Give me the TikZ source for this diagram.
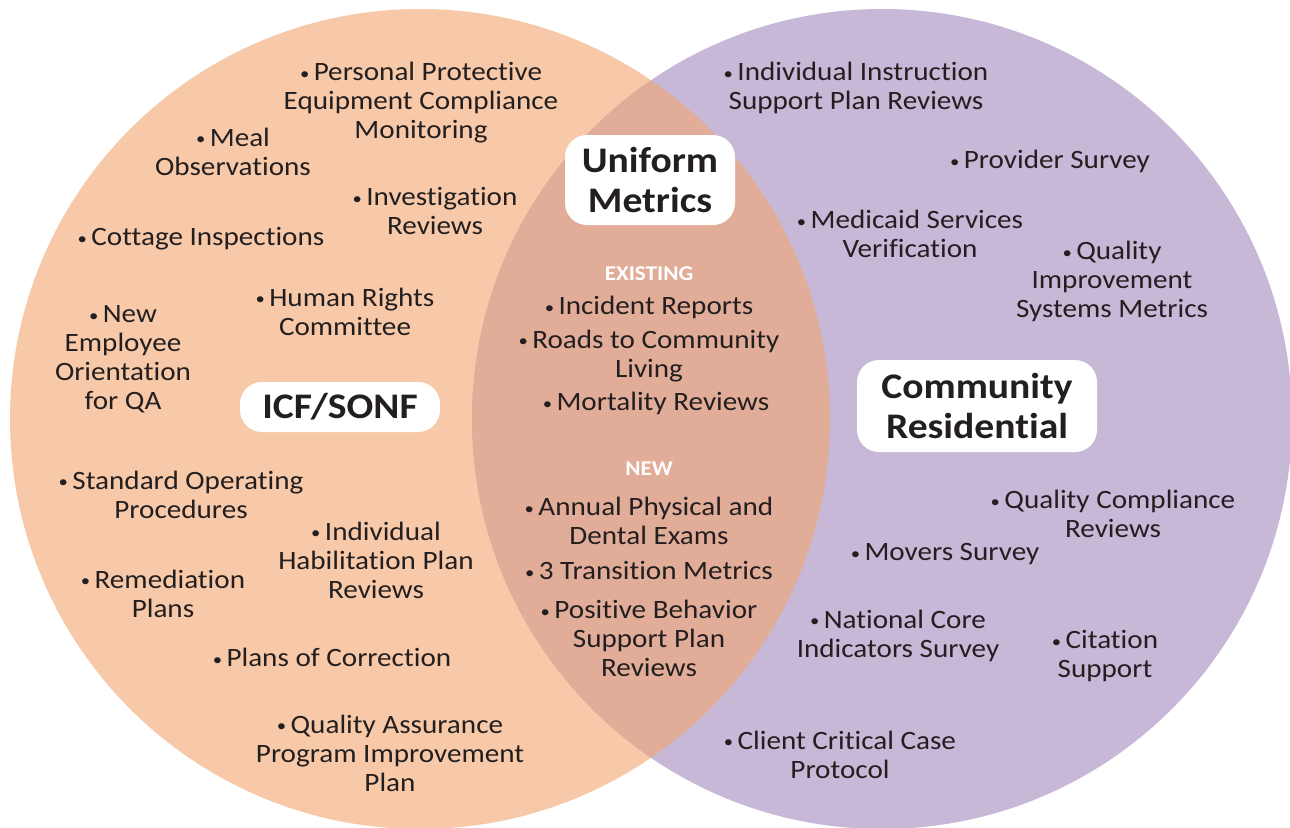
\documentclass[tikz,border=0pt]{standalone}
\usepackage{fontspec}
\setmainfont{Carlito}[FakeStretch=1.1, Ligatures={NoCommon,NoRequired}, Contextuals=NoAlternate, RawFeature={-dlig}]
\definecolor{peach}{RGB}{248,201,168}
\definecolor{lav}{RGB}{198,184,214}
\definecolor{ovl}{RGB}{226,173,152}
\definecolor{txt}{RGB}{35,31,32}
\newcommand\bl{\raisebox{1.5pt}{\fontsize{17}{17}\selectfont•}\,}
\tikzset{
  item/.style={font=\fontsize{26.5}{29}\selectfont, align=center, text=txt, inner sep=0pt},
  head/.style={font=\bfseries\fontsize{21}{24}\selectfont, text=white, inner sep=0pt},
  label box/.style={fill=white, rounded corners=22pt, font=\bfseries\fontsize{36}{40}\selectfont, align=center, text=txt, inner sep=0pt}
}
\begin{document}
\begin{tikzpicture}[x=1pt,y=-1pt]
\useasboundingbox (0,0) rectangle (1290,827);
\fill[white] (0,0) rectangle (1290,827);
\fill[peach] (420,419) circle (410pt);
\fill[lav] (882,419) circle (410pt);
\begin{scope}
  \clip (420,419) circle (410pt);
  \fill[ovl] (882,419) circle (410pt);
\end{scope}
% left circle items
\node[item] (ppe) at (421,103) {\bl Personal Protective\\Equipment Compliance\\Monitoring};
\node[item] (meal) at (233,151.5) {\bl Meal\\Observations};
\node[item] (inv) at (435,211) {\bl Investigation\\Reviews};
\node[item] (cot) at (201,239) {\bl Cottage Inspections};
\node[item] (hrc) at (345,311.5) {\bl Human Rights\\Committee};
\node[item] (neo) at (123,359.5) {\bl New\\Employee\\Orientation\\for QA};
\node[label box, minimum width=200pt, minimum height=50pt] (icf) at (340,407) {ICF/SONF};
\node[item] (sop) at (181,494.5) {\bl Standard Operating\\Procedures};
\node[item] (ihp) at (376,560) {\bl Individual\\Habilitation Plan\\Reviews};
\node[item] (rem) at (163,593.5) {\bl Remediation\\Plans};
\node[item] (poc) at (332,657.5) {\bl Plans of Correction};
\node[item] (qa) at (390,753) {\bl Quality Assurance\\Program Improvement\\Plan};
% overlap
\node[label box, minimum width=170pt, minimum height=90pt] (um) at (650,180) {Uniform\\Metrics};
\node[head] (ex) at (649,273.5) {EXISTING};
\node[item] (inc) at (649,307.5) {\bl Incident Reports};
\node[item] (rtc) at (649,356) {\bl Roads to Community\\Living};
\node[item] (mort) at (656,403.5) {\bl Mortality Reviews};
\node[head] (nw) at (649,468.5) {NEW};
\node[item] (ape) at (649,521) {\bl Annual Physical and\\Dental Exams};
\node[item] (ttm) at (649,570.5) {\bl 3 Transition Metrics};
\node[item] (pbs) at (649,638.5) {\bl Positive Behavior\\Support Plan\\Reviews};
% right circle
\node[item] (iis) at (856,88) {\bl Individual Instruction\\Support Plan Reviews};
\node[item] (ps) at (1050,161.5) {\bl Provider Survey};
\node[item] (msv) at (910,234) {\bl Medicaid Services\\Verification};
\node[item] (qis) at (1112,281.5) {\bl Quality\\Improvement\\Systems Metrics};
\node[label box, minimum width=240pt, minimum height=92pt] (cr) at (977,406) {Community\\Residential};
\node[item] (qcr) at (1113,514) {\bl Quality Compliance\\Reviews};
\node[item] (ms) at (945,554.5) {\bl Movers Survey};
\node[item] (nci) at (898,635.5) {\bl National Core\\Indicators Survey};
\node[item] (cs) at (1105,656.5) {\bl Citation\\Support};
\node[item] (ccc) at (840,754.5) {\bl Client Critical Case\\Protocol};
\end{tikzpicture}
\end{document}
